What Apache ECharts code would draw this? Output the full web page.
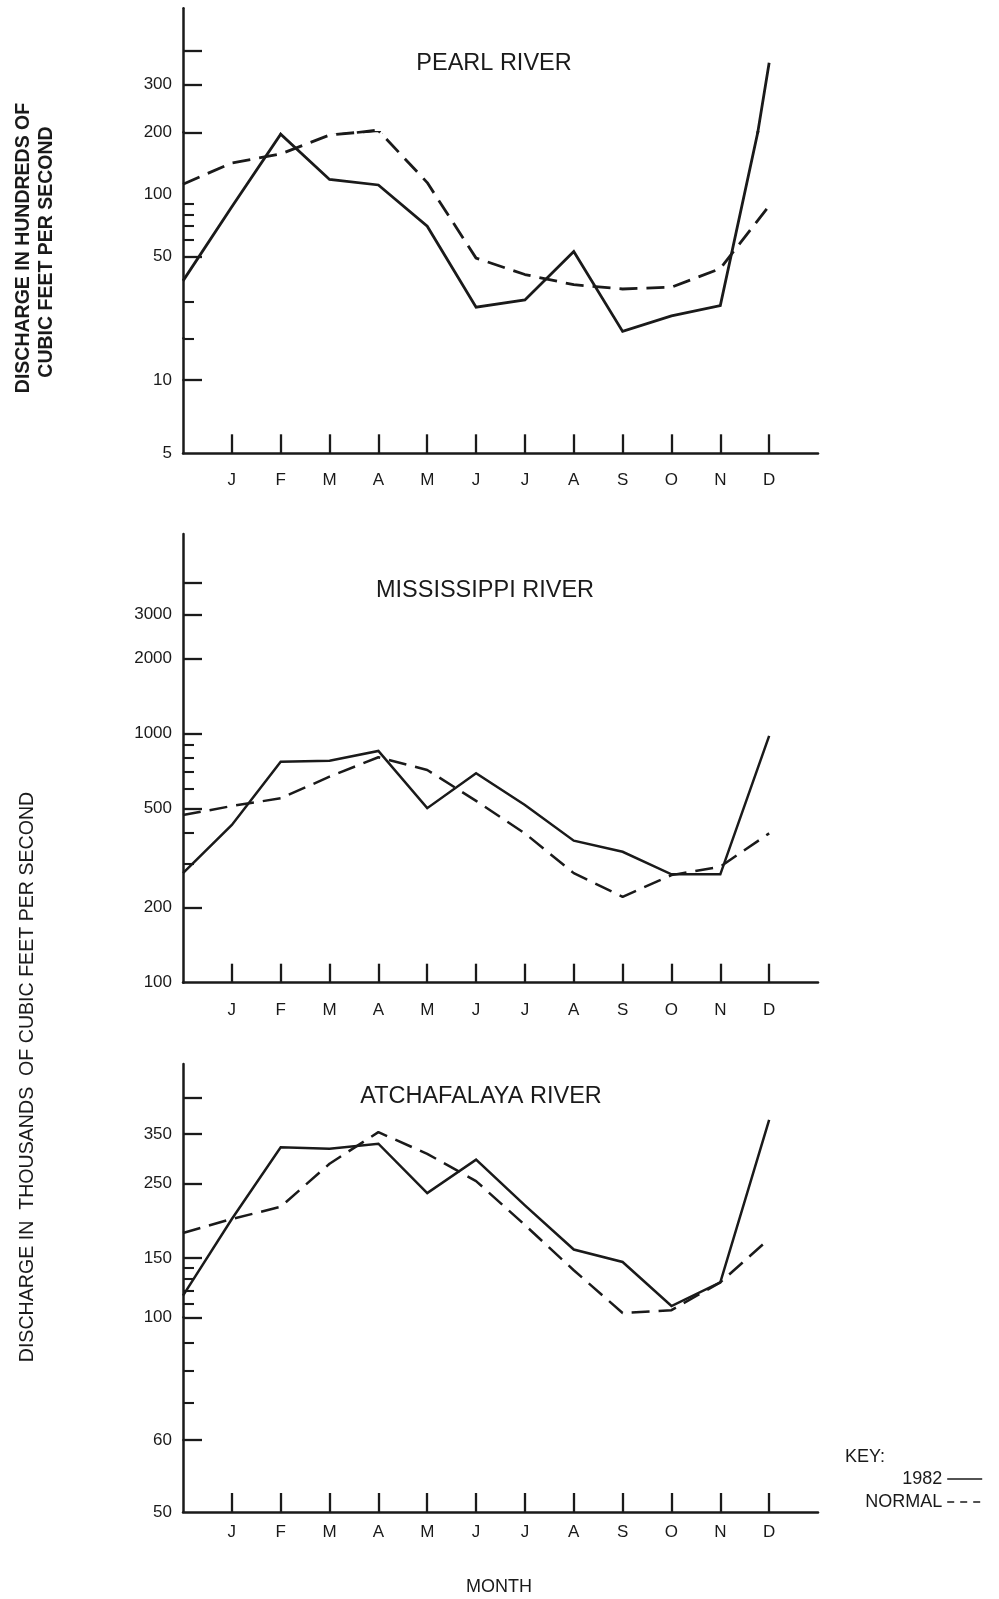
<!DOCTYPE html>
<html>
<head>
<meta charset="utf-8">
<script src="https://cdn.jsdelivr.net/npm/echarts@6/dist/echarts.min.js"></script>
<style>
  html, body { margin: 0; padding: 0; background: #ffffff; }
  #chart { width: 999px; height: 1599px; }
</style>
</head>
<body>
<div id="chart"></div>
<script>
// ---------------------------------------------------------------
// Monthly river discharge, 1982 versus normal.
// Each series starts with a value on the vertical axis, then J..D.
// ---------------------------------------------------------------
const MONTHS = ['J', 'F', 'M', 'A', 'M', 'J', 'J', 'A', 'S', 'O', 'N', 'D'];
const MONTH_POS = [1, 2, 3, 4, 5, 6, 7, 8, 9, 10, 11, 12];

// Pearl River, hundreds of cubic feet per second
const pearl1982   = [38, 87, 196, 118, 111, 70, 28.3, 30.7, 52.8, 21.6, 25.7, 28.8, 360];
const pearlNormal = [112, 142, 157, 194, 204, 114, 49, 40.8, 36.4, 34.7, 35.4, 43.6, 88];
const pearlLabels = [5, 10, 50, 100, 200, 300];
const pearlMajor  = [10, 50, 200, 300, 400];
const pearlMinor  = [20, 30, 60, 70, 80, 90];

// Mississippi River, thousands of cubic feet per second
const miss1982   = [275, 429, 770, 777, 850, 501, 692, 516, 371, 335, 272, 272, 976];
const missNormal = [470, 511, 549, 670, 802, 713, 536, 397, 275, 221, 270, 292, 397];
const missLabels = [100, 200, 500, 1000, 2000, 3000];
const missMajor  = [200, 500, 1000, 2000, 3000, 4000];
const missMinor  = [300, 400, 600, 700, 800, 900];

// Atchafalaya River, thousands of cubic feet per second
const atch1982   = [116, 196, 320, 317, 328, 234, 294, 215, 159, 146, 108, 127, 386];
const atchNormal = [178, 196, 213, 286, 355, 306, 254, 188, 138, 103, 105, 127, 171];
const atchLabels = [50, 60, 100, 150, 250, 350];
const atchMajor  = [60, 100, 150, 250, 350, 450];
const atchMinor  = [70, 80, 90, 110, 120, 130, 140];

// ---------------------------------------------------------------
// Layout and styling
// ---------------------------------------------------------------
const INK = '#1a1a1a';
const FONT = '"Liberation Sans", Arial, Helvetica, sans-serif';
const PLOT_LEFT = 183;
const PLOT_WIDTH = 635;

// The drafted vertical scales are hand-ruled, so each panel is built from
// stacked log-scaled bands (lo..hi drawn between pixel rows top..bottom).
// Every series is drawn in every band and clipped to it, so lines stay
// continuous across band edges.
const panels = [
  {
    title: 'PEARL RIVER', titleX: 494, titleY: 64,
    solid: pearl1982, dashed: pearlNormal,
    labels: pearlLabels, major: pearlMajor, minor: pearlMinor,
    bands: [
      { lo: 5,   hi: 10,  bottom: 453.3, top: 380 },
      { lo: 10,  hi: 20,  bottom: 380,   top: 338.3 },
      { lo: 20,  hi: 200, bottom: 338.3, top: 132.3 },
      { lo: 200, hi: 571, bottom: 132.3, top: 8.3 }
    ],
    monthMargin: 19,
    lineWidth: 2.8
  },
  {
    title: 'MISSISSIPPI RIVER', titleX: 485, titleY: 591,
    solid: miss1982, dashed: missNormal,
    labels: missLabels, major: missMajor, minor: missMinor,
    bands: [
      { lo: 100, hi: 6300, bottom: 982.7, top: 534 }
    ],
    monthMargin: 19,
    lineWidth: 2.5
  },
  {
    title: 'ATCHAFALAYA RIVER', titleX: 481, titleY: 1097,
    solid: atch1982, dashed: atchNormal,
    labels: atchLabels, major: atchMajor, minor: atchMinor,
    bands: [
      { lo: 50,  hi: 60,  bottom: 1512,   top: 1440 },
      { lo: 60,  hi: 100, bottom: 1440,   top: 1317.3 },
      { lo: 100, hi: 566, bottom: 1317.3, top: 1064 }
    ],
    monthMargin: 12,
    lineWidth: 2.5
  }
];

const option = {
  animation: false,
  backgroundColor: '#ffffff',
  textStyle: { fontFamily: FONT, color: INK },
  grid: [],
  xAxis: [],
  yAxis: [],
  series: [],
  graphic: [],
  legend: {
    data: [
      { name: '1982', lineStyle: { width: 1.6, type: 'solid' }, itemStyle: { opacity: 0, borderWidth: 0 } },
      { name: 'NORMAL', lineStyle: { width: 1.6, type: [7, 6] }, itemStyle: { opacity: 0, borderWidth: 0 } }
    ],
    orient: 'vertical',
    align: 'right',
    right: 11,
    top: 1465,
    itemWidth: 35,
    itemHeight: 14,
    itemGap: 5,
    selectedMode: false,
    itemStyle: { opacity: 0, borderWidth: 0 },
    textStyle: { fontSize: 18, color: INK, fontFamily: FONT }
  }
};

function addPanel(p) {
  p.bands.forEach((band, bi) => {
    const gi = option.grid.length;
    const isBottom = bi === 0;
    const inBand = v => v >= band.lo && v < band.hi;
    const yMin = band.lo * 0.9999;
    const yMax = band.hi;

    option.grid.push({
      left: PLOT_LEFT, width: PLOT_WIDTH,
      top: band.top, height: band.bottom - band.top,
      containLabel: false
    });

    const xi = option.xAxis.length;
    option.xAxis.push({
      type: 'value', gridIndex: gi, min: 0, max: 13, position: 'bottom',
      show: isBottom,
      axisLine: { show: true, onZero: false, lineStyle: { color: INK, width: 2.5 } },
      axisTick: { show: true, inside: true, length: 19, customValues: MONTH_POS,
                  lineStyle: { color: INK, width: 2.3 } },
      axisLabel: { show: true, customValues: MONTH_POS, margin: p.monthMargin,
                   formatter: v => MONTHS[Math.round(v) - 1] || '',
                   color: INK, fontSize: 17, fontFamily: FONT },
      splitLine: { show: false }
    });

    const yi = option.yAxis.length;
    // long ticks, axis line and labels
    option.yAxis.push({
      type: 'log', logBase: 10, gridIndex: gi, min: yMin, max: yMax, position: 'left',
      axisLine: { show: true, onZero: false, lineStyle: { color: INK, width: 2.5 } },
      axisTick: { show: true, inside: true, length: 19, customValues: p.major.filter(inBand),
                  lineStyle: { color: INK, width: 2.3 } },
      axisLabel: { show: true, inside: false, margin: 11, customValues: p.labels.filter(inBand),
                   showMinLabel: true, showMaxLabel: true,
                   formatter: v => String(Math.round(v)),
                   color: INK, fontSize: 17, fontFamily: FONT },
      splitLine: { show: false },
      minorTick: { show: false }
    });
    // short ticks
    option.yAxis.push({
      type: 'log', logBase: 10, gridIndex: gi, min: yMin, max: yMax, position: 'left',
      axisLine: { show: false, onZero: false },
      axisTick: { show: true, inside: true, length: 11, customValues: p.minor.filter(inBand),
                  lineStyle: { color: INK, width: 2.1 } },
      axisLabel: { show: false },
      splitLine: { show: false },
      minorTick: { show: false }
    });

    option.series.push({
      name: '1982', type: 'line', xAxisIndex: xi, yAxisIndex: yi,
      data: p.solid.map((v, i) => [i, v]),
      symbol: 'none', smooth: false, silent: true, clip: true,
      lineStyle: { color: INK, width: p.lineWidth, type: 'solid', join: 'miter' },
      itemStyle: { color: INK }
    });
    option.series.push({
      name: 'NORMAL', type: 'line', xAxisIndex: xi, yAxisIndex: yi,
      data: p.dashed.map((v, i) => [i, v]),
      symbol: 'none', smooth: false, silent: true, clip: true,
      lineStyle: { color: INK, width: p.lineWidth, type: [18, 9] },
      itemStyle: { color: INK }
    });
  });

  option.graphic.push({
    type: 'text', x: p.titleX, y: p.titleY, silent: true,
    style: { text: p.title, fill: INK, font: '23.5px ' + FONT,
             align: 'center', verticalAlign: 'middle',
             textAlign: 'center', textVerticalAlign: 'middle' }
  });
}

panels.forEach(addPanel);

// Axis titles and key
function vText(text, x, y, font) {
  return {
    type: 'text', x: x, y: y, rotation: Math.PI / 2, silent: true,
    style: { text: text, fill: INK, font: font,
             align: 'center', verticalAlign: 'middle',
             textAlign: 'center', textVerticalAlign: 'middle' }
  };
}
function hText(text, x, y, size, align) {
  return {
    type: 'text', x: x, y: y, silent: true,
    style: { text: text, fill: INK, font: size + 'px ' + FONT,
             align: align, verticalAlign: 'middle',
             textAlign: align, textVerticalAlign: 'middle' }
  };
}
option.graphic.push(vText('DISCHARGE IN HUNDREDS OF', 24, 248, 'bold 19.5px ' + FONT));
option.graphic.push(vText('CUBIC FEET PER SECOND', 47, 252, 'bold 19.5px ' + FONT));
option.graphic.push(vText('DISCHARGE IN  THOUSANDS  OF CUBIC FEET PER SECOND', 28, 1077, '19.6px ' + FONT));
option.graphic.push(hText('MONTH', 499, 1587, 18, 'center'));
option.graphic.push(hText('KEY:', 845, 1457.5, 18, 'left'));

const chart = echarts.init(document.getElementById('chart'), null, { renderer: 'canvas' });
chart.setOption(option);
</script>
</body>
</html>
